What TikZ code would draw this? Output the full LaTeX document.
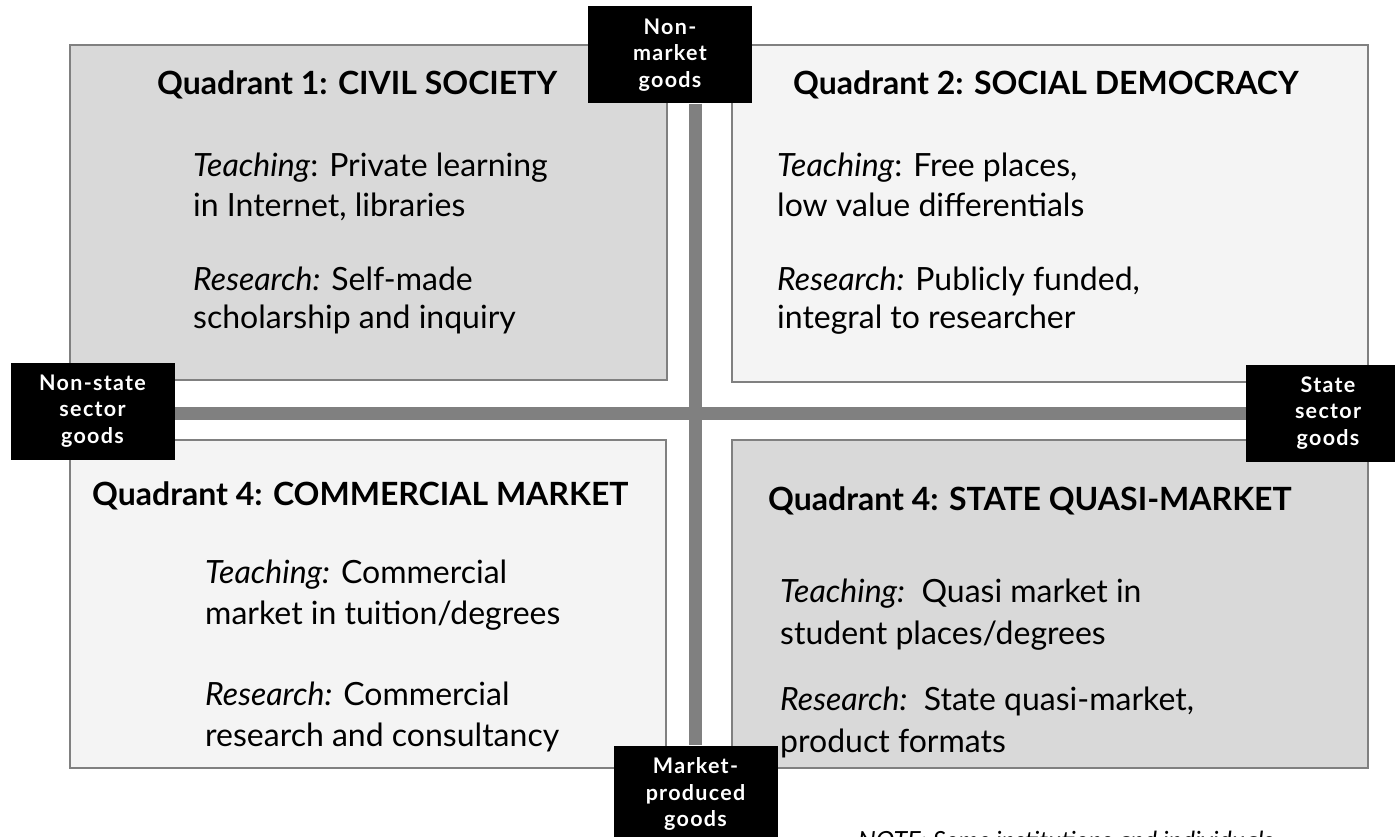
\documentclass[tikz,border=0pt]{standalone}
\usepackage{fontspec}
\setmainfont{Lato}
\newfontfamily\labelfont{Lato}[LetterSpace=6]
\usetikzlibrary{backgrounds}
\definecolor{edgegray}{HTML}{808080}
\definecolor{darkfill}{HTML}{D9D9D9}
\definecolor{lightfill}{HTML}{F4F4F4}
\begin{document}
\begin{tikzpicture}[x=1pt,y=-1pt,
  quadbox/.style={draw=edgegray,line width=2.2pt,inner sep=0pt,outer sep=0pt},
  qtitle/.style={anchor=base west,inner sep=0pt,font=\bfseries\fontsize{32}{38}\selectfont},
  qbody/.style={anchor=base west,inner sep=0pt,font=\fontsize{32}{40}\selectfont},
  axlabel/.style={fill=black,text=white,inner sep=0pt,align=center,
    minimum width=164pt,minimum height=97pt,
    font=\labelfont\bfseries\fontsize{21.5}{26.5}\selectfont},
  axbar/.style={draw=edgegray,line width=13pt},
  notetext/.style={anchor=base west,inner sep=0pt,font=\itshape\fontsize{25}{30}\selectfont}]
\useasboundingbox (0,0) rectangle (1395,837);
% axis labels
\node[axlabel] (nm) at (670,55) {Non-\\market\\goods};
\node[axlabel] (ns) at (92.5,411) {Non-state\\sector\\goods};
\node[axlabel] (ss) at (1328,413) {State\\sector\\goods};
\node[axlabel] (mp) at (695.5,794) {Market-\\produced\\goods};
\coordinate (hc) at (695.5,413.5);
\begin{scope}[on background layer]
\fill[white] (0,0) rectangle (1395,837);
% quadrant boxes
\node[quadbox,fill=darkfill,minimum width=597pt,minimum height=335pt] (q1) at (368.5,212.5) {};
\node[quadbox,fill=lightfill,minimum width=636pt,minimum height=337pt] (q2) at (1050,213.5) {};
\node[quadbox,fill=lightfill,minimum width=596pt,minimum height=328pt] (q3) at (368,604) {};
\node[quadbox,fill=darkfill,minimum width=636pt,minimum height=328pt] (q4) at (1050,604) {};
% axis bars
\draw[axbar] (nm.south -| mp.north) -- (mp.north);
\draw[axbar] (ns.east |- hc) -- (ss.west |- hc);
\end{scope}
% quadrant 1
\node[qtitle] (t1) at (157,95) {Quadrant 1: CIVIL SOCIETY};
\node[qbody] (a1) at (193,177) {\textit{Teaching}: Private learning};
\node[qbody] (b1) at (193,217) {in Internet, libraries};
\node[qbody] (c1) at (193,290) {\textit{Research:} Self-made};
\node[qbody] (d1) at (193,328) {scholarship and inquiry};
% quadrant 2
\node[qtitle] (t2) at (793,95) {Quadrant 2: SOCIAL DEMOCRACY};
\node[qbody] (a2) at (777,177) {\textit{Teaching}: Free places,};
\node[qbody] (b2) at (777,217) {low value differentials};
\node[qbody] (c2) at (777,290) {\textit{Research:} Publicly funded,};
\node[qbody] (d2) at (777,328) {integral to researcher};
% quadrant 3
\node[qtitle] (t3) at (92,505) {Quadrant 4: COMMERCIAL MARKET};
\node[qbody] (a3) at (205,583) {\textit{Teaching:} Commercial};
\node[qbody] (b3) at (205,624) {market in tuition/degrees};
\node[qbody] (c3) at (205,705) {\textit{Research:} Commercial};
\node[qbody] (d3) at (205,746) {research and consultancy};
% quadrant 4
\node[qtitle] (t4) at (768,510) {Quadrant 4: STATE QUASI-MARKET};
\node[qbody] (a4) at (780,602) {\textit{Teaching:}\ \ Quasi market in};
\node[qbody] (b4) at (780,644) {student places/degrees};
\node[qbody] (c4) at (780,710) {\textit{Research:}\ \ State quasi-market,};
\node[qbody] (d4) at (780,752) {product formats};
% note (cut by the picture's lower edge, as in the source)
\node[notetext] (note) at (858,849) {NOTE: Some institutions and individuals};
\end{tikzpicture}
\end{document}
